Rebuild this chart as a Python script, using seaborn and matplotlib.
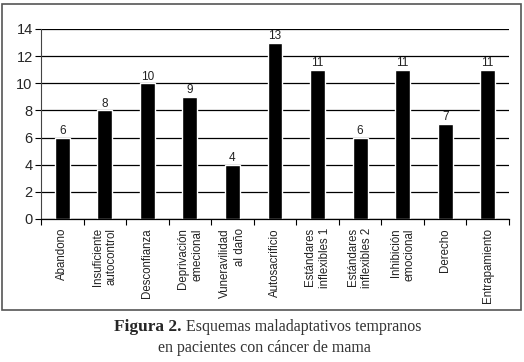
import matplotlib
matplotlib.use("Agg")
import matplotlib.pyplot as plt
import seaborn as sns
import pandas as pd
import numpy as np
from matplotlib.patches import Rectangle

# datos
esquemas = ["Abandono", "Insuficiente\nautocontrol", "Desconfianza",
            "Deprivación\nemecional", "Vuneravilidad\nal daño", "Autosacrificio",
            "Estándares\ninflexibles 1", "Estándares\ninflexibles 2",
            "Inhibición\nemocional", "Derecho", "Entrapamiento"]
frecuencia = [6, 8, 10, 9, 4, 13, 11, 6, 11, 7, 11]

df = pd.DataFrame({"esquema": esquemas, "n": frecuencia})

sns.set_style("white")
plt.rcParams["font.family"] = ["Liberation Sans", "DejaVu Sans"]

fig = plt.figure(figsize=(5.24, 3.62), dpi=100)
ax = fig.add_axes([41 / 524, 1 - 219 / 362, 468 / 524, 190 / 362])

sns.barplot(data=df, x="esquema", y="n", color="black", width=0.35,
            saturation=1, ax=ax)
ax.bar_label(ax.containers[0], padding=0.5, fontsize=8.5, color="#222222")

ax.set_ylim(0, 14)
ax.set_xlim(-0.5, len(esquemas) - 0.5)
ax.set_yticks(np.arange(0, 15, 2))
ax.yaxis.grid(True, color="black", linewidth=0.9)
ax.set_axisbelow(True)
ax.set_xlabel("")
ax.set_ylabel("")

for s in ["top", "right"]:
    ax.spines[s].set_visible(False)
ax.spines["left"].set_color("#444444")
ax.spines["left"].set_linewidth(0.8)
ax.spines["bottom"].set_color("black")
ax.spines["bottom"].set_linewidth(0.9)

ax.tick_params(axis="y", left=True, length=4, width=0.8, labelsize=10.5,
               pad=2, color="black")
ax.tick_params(axis="x", which="major", bottom=False, labelsize=8.3, pad=3)
ax.set_xticks(np.arange(-0.5, len(esquemas), 1), minor=True)
ax.tick_params(axis="x", which="minor", bottom=True, length=4, width=0.8,
               color="black")
for lbl in ax.get_xticklabels():
    lbl.set_rotation(90)
    lbl.set_va("top")
    lbl.set_ha("center")
    lbl.set_multialignment("right")
    lbl.set_linespacing(1.25)
    lbl.set_color("#222222")

# marco exterior
fig.patches.append(Rectangle((2 / 524, 1 - 310 / 362), 519 / 524, 306 / 362,
                             transform=fig.transFigure, fill=False,
                             edgecolor="#555555", linewidth=1.2))

# pie de figura
serif = ["Liberation Serif", "DejaVu Serif"]
fig.text(182 / 524, 1 - 327 / 362, "Figura 2.", ha="right", va="center",
         fontsize=12.5, fontweight="bold", family=serif)
fig.text(186 / 524, 1 - 327 / 362, "Esquemas maladaptativos tempranos",
         ha="left", va="center", fontsize=11.5, family=serif, color="#333333")
fig.text(264 / 524, 1 - 348 / 362, "en pacientes con cáncer de mama",
         ha="center", va="center", fontsize=11.5, family=serif, color="#333333")

fig.savefig("out.png", dpi=100)
